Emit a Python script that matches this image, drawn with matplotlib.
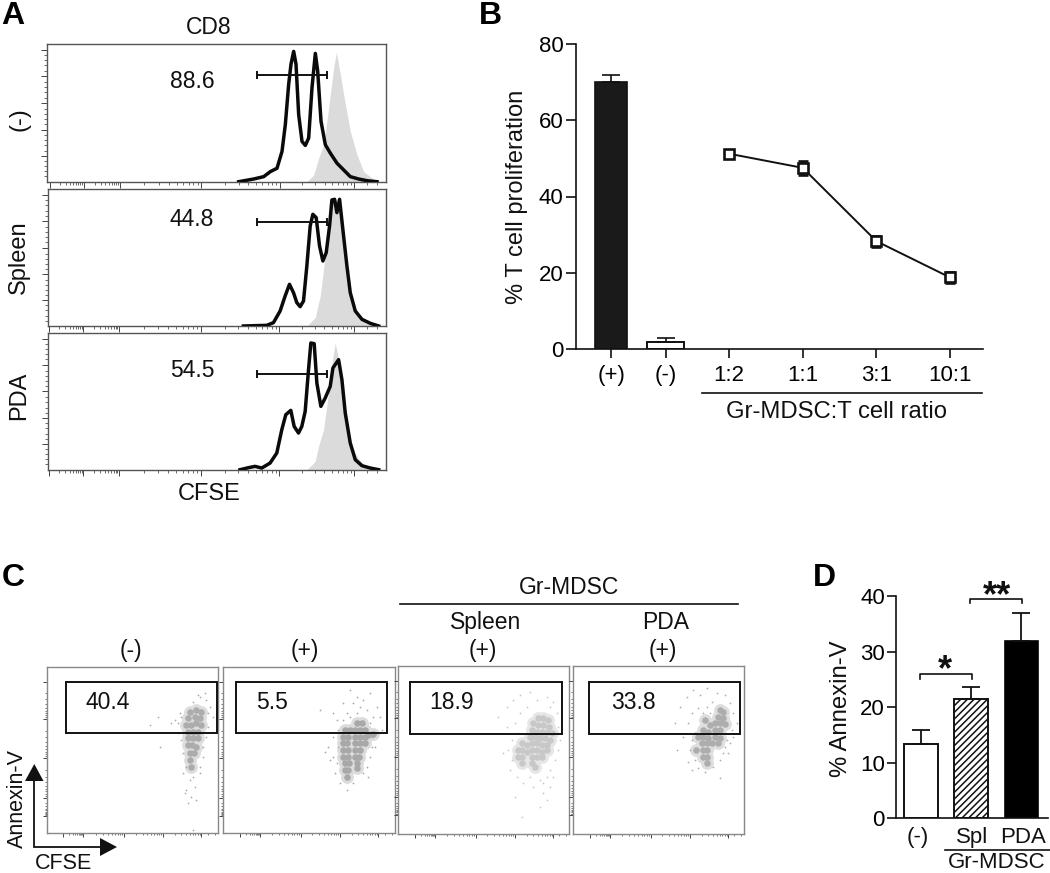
import numpy as np
import matplotlib
matplotlib.use("Agg")
import matplotlib.pyplot as plt
from matplotlib.patches import Polygon, Rectangle

plt.rcParams['font.family'] = ['Liberation Sans', 'DejaVu Sans']
plt.rcParams['hatch.linewidth'] = 1.1

W, H = 1050, 873
fig = plt.figure(figsize=(W/100, H/100), dpi=100, facecolor='white')

def px_axes(l, t, r, b):
    return fig.add_axes([l/W, 1-b/H, (r-l)/W, (b-t)/H])

# ---------- Panel A: histograms (channel, height) ----------
A_NAMES = ['(-)', 'Spleen', 'PDA']
A_PCT = ['88.6', '44.8', '54.5']
A_GATE_H = [319, 311, 287]
A_GATE_X = [770, 980]
A_BLACK_X = [
    [715,760,790,810,830,845,855,865,872,880,887,895,905,915,925,935,945,952,962,975,990,1010,1030,1050,1075,1100,1130],
    [730,800,820,840,855,868,880,890,900,910,920,930,938,948,958,968,978,988,995,1003,1010,1018,1030,1040,1050,1065,1085,1110,1135],
    [720,745,765,785,810,830,845,857,872,882,895,905,915,925,932,942,950,962,975,990,998,1015,1025,1035,1050,1065,1085,1110,1135],
]
A_BLACK_Y = [
    [0,8,15,30,40,90,170,290,350,388,350,200,120,108,130,280,382,330,180,110,85,55,35,15,8,3,0],
    [0,2,10,45,90,125,100,70,58,75,180,300,335,325,240,195,220,300,378,380,340,380,270,180,100,45,20,8,0],
    [0,6,10,5,20,50,120,165,178,130,110,130,175,300,380,378,260,190,215,250,305,330,270,170,80,30,12,5,0],
]
A_GRAY_X = [
    [920,940,955,970,985,1000,1008,1020,1035,1050,1070,1090,1110,1130],
    [920,945,960,975,985,995,1010,1020,1030,1045,1060,1080,1110,1130],
    [920,945,955,970,985,995,1005,1018,1030,1050,1070,1090,1110,1135],
]
A_GRAY_Y = [
    [0,20,70,110,220,340,385,320,230,150,80,30,15,0],
    [0,25,90,210,280,370,380,340,260,130,60,25,5,0],
    [0,25,70,120,230,320,380,320,200,75,40,15,5,0],
]
A_BOXES = [(47, 44, 386, 181.7), (48, 189.3, 386, 326), (48, 333, 386, 469.7)]
A_XL = [140, 145, 145]
A_DECADES = [250, 358, 603, 838, 1062]
A_YMAJOR = [77, 155, 235, 315, 393]

def log_minor(d):
    out = []
    for a, b in zip(d[:-1], d[1:]):
        out += list(a + (b-a)*np.log10(np.arange(2, 10)))
    return out

for i in range(3):
    ax = px_axes(*A_BOXES[i])
    ax.fill_between(A_GRAY_X[i], A_GRAY_Y[i], color='#dbdbdb', lw=0, zorder=1)
    ax.plot(A_BLACK_X[i], A_BLACK_Y[i], color='#0a0a0a', lw=2.5, solid_joinstyle='round', zorder=3)
    ax.plot(A_GATE_X, [A_GATE_H[i]]*2, color='#111111', lw=1.4, zorder=4,
            marker='|', ms=6, mew=1.4)
    ax.set_xlim(A_XL[i], 1157); ax.set_ylim(0, 410)
    ax.set_xticks([148] + A_DECADES)
    ax.set_xticks(log_minor([148] + A_DECADES) + [1100, 1130], minor=True)
    ax.set_yticks(A_YMAJOR)
    ax.set_yticks([v+k*15.6 for v in [0]+A_YMAJOR for k in range(1, 5) if v+k*15.6 < 405], minor=True)
    ax.tick_params(which='major', length=4.5, width=0.7, color='#444444', labelleft=False, labelbottom=False)
    ax.tick_params(which='minor', length=2, width=0.6, color='#555555')
    for s in ax.spines.values():
        s.set_color('#555555'); s.set_linewidth(1.0)

# ---------- Panel B ----------
B_BAR_LABELS = ['(+)', '(-)']
B_BAR_POS = [0.40, 1.14]
B_BAR_WIDTHS = [0.434, 0.497]
B_BAR_VALS = [70.0, 1.9]
B_BAR_ERR = [1.7, 1.0]
B_RATIO_LABELS = ['1:2', '1:1', '3:1', '10:1']
B_RATIO_POS = [2, 3, 4, 5]
B_RATIO_VALS = [51.2, 47.5, 28.3, 18.8]
B_RATIO_ERR = [0.7, 1.8, 1.4, 1.5]
B_YTICKS = [0, 20, 40, 60, 80]

axb = px_axes(576, 43.7, 983, 349.3)
axb.bar(B_BAR_POS[0], B_BAR_VALS[0], B_BAR_WIDTHS[0], color='#1a1a1a', edgecolor='#111111', lw=1.2)
axb.bar(B_BAR_POS[1], B_BAR_VALS[1], B_BAR_WIDTHS[1], color='white', edgecolor='#111111', lw=1.4)
axb.errorbar(B_BAR_POS, B_BAR_VALS, yerr=[[0, 0], B_BAR_ERR], fmt='none', ecolor='#111111',
             elinewidth=1.2, capsize=6.3, capthick=1.2)
axb.errorbar(B_RATIO_POS, B_RATIO_VALS, yerr=B_RATIO_ERR, color='#111111', lw=1.4,
             marker='s', ms=6.5, mfc='white', mec='#111111', mew=1.9,
             ecolor='#111111', elinewidth=1.2, capsize=3.8, capthick=1.2)
axb.set_xlim(-0.076, 5.446); axb.set_ylim(0, 80)
axb.set_xticks(B_BAR_POS + B_RATIO_POS)
axb.set_xticklabels(B_BAR_LABELS + B_RATIO_LABELS)
axb.set_yticks(B_YTICKS)
axb.tick_params(axis='y', length=7, width=1.2, labelsize=16, pad=2, color='#111111')
axb.tick_params(axis='x', length=6.5, width=1.2, labelsize=16, pad=4.5, color='#111111')
for s in ['top', 'right']:
    axb.spines[s].set_visible(False)
for s in ['left', 'bottom']:
    axb.spines[s].set_linewidth(1.2); axb.spines[s].set_color('#111111')

# ---------- Panel C: gates and read-off dot clouds (channel coordinates) ----------
C_PCT = ['40.4', '5.5', '18.9', '33.8']
C_BOXES = [(46.7, 666.7, 218, 833.3), (223.3, 666.7, 395, 833.3), (398.3, 666, 569.3, 834), (573.3, 666, 744.3, 834)]
C_XLIM = [(140, 655), (670, 1185), (25, 538), (550, 1063)]
C_YLIM = [(820, 320), (820, 320), (762, 258), (762, 258)]
C_GATE = [(197, 365, 652, 520), (708, 365, 1162, 520), (61, 306, 515, 462), (597, 306, 1051, 462)]
C_COLOR = ['#acacac', '#a8a8a8', '#c8c8c8', '#adadad']
C_HALO = ['#dedede', '#dcdcdc', '#e6e6e6', '#dedede']
C1_CORE = [(570,455),(590,450),(605,455),(565,475),(585,470),(600,475),(560,495),(575,495),(590,490),(605,495),
           (565,515),(580,515),(595,515),(565,535),(580,535),(595,535),(565,555),(578,555),(590,560),(570,580),
           (582,580),(572,600),(575,620)]
C1_DOTS = [(450,495),(475,470),(515,490),(540,460),(600,410),(620,420),(630,440),(615,400),(535,520),(620,530),
           (625,500),(545,540),(610,590),(600,640),(550,640),(570,660),(585,680),(560,690),(565,730),(575,710),
           (590,720),(555,700),(580,650),(560,620),(525,480),(640,470),(610,560),(550,580),(580,810),(480,560),
           (600,620),(580,425),(595,405),(545,470),(535,490),(625,460)]
C2_CORE = [(1035,510),(1050,510),(1030,530),(1045,530),(1028,550),(1042,550),(1030,570),(1045,570),(1030,590),(1045,590),
           (1035,610),(1048,610),(1035,630),(1045,630),(1040,650),(1070,490),(1085,490),(1065,510),(1080,510),(1095,510),
           (1065,530),(1080,530),(1095,530),(1105,525),(1065,550),(1080,550),(1095,550),(1065,570),(1080,570),(1065,590),
           (1078,590),(1070,610),(1072,625),(1120,522)]
C2_DOTS = [(985,560),(975,575),(990,600),(1000,530),(1010,480),(1030,430),(1050,390),(1070,410),(1090,420),(1110,400),
           (1130,440),(1140,470),(1145,510),(1125,560),(1110,590),(1100,620),(1060,670),(1040,690),(1020,670),(1005,640),
           (1000,460),(1060,430),(1120,470),(1100,450),(1080,440),(1040,460),(1030,480),(1015,510),(1130,520),(1115,530),
           (960,450),(1000,590),(1105,650),(1090,640),(1070,460),(1050,470),(1110,490),(1015,560),(1010,610),(1115,560)]
C3_CORE = [(445,415),(460,415),(475,420),(430,430),(445,435),(460,435),(478,440),(425,450),(440,455),(455,455),
           (470,455),(485,460),(420,470),(435,470),(450,475),(465,475),(480,480),(395,490),(410,495),(425,490),
           (440,490),(455,495),(470,495),(395,510),(410,515),(425,510),(440,510),(455,515),(470,510),(395,530),
           (425,530),(440,530),(455,530),(425,550),(395,550),(435,560),(385,510),(385,530)]
C3_DOTS = [(350,380),(370,360),(390,345),(420,335),(440,360),(470,350),(490,365),(500,400),(505,440),(510,480),
           (505,510),(495,540),(480,570),(470,590),(450,600),(420,590),(380,590),(360,570),(340,520),(325,410),
           (350,440),(365,480),(355,510),(390,400),(410,380),(480,380),(430,620),(460,640),(470,660),(450,680),
           (395,710),(375,650),(480,620),(460,610),(400,610),(490,590),(375,430),(385,460),(365,540),(500,460)]
C4_CORE = [(990,390),(1000,395),(985,410),(1000,415),(975,430),(990,430),(1005,432),(945,420),(960,435),(975,450),
           (990,450),(940,450),(955,455),(940,470),(955,475),(975,470),(990,475),(935,490),(950,490),(965,490),
           (985,490),(940,510),(952,510),(940,530),(952,530),(950,550),(918,510),(925,470)]
C4_DOTS = [(855,430),(870,380),(890,350),(910,330),(930,345),(950,325),(980,340),(1005,345),(1020,370),(1030,400),
           (1040,430),(1025,450),(1020,490),(1000,520),(990,540),(970,560),(945,575),(905,570),(895,545),(860,510),
           (880,470),(895,430),(905,400),(925,385),(950,380),(960,400),(1010,480),(1005,500),(915,540),(905,480),
           (925,565),(990,595),(1015,520),(1030,470),(965,365),(940,400),(915,460),(900,510)]
C_CORES = [C1_CORE, C2_CORE, C3_CORE, C4_CORE]
C_DOTS = [C1_DOTS, C2_DOTS, C3_DOTS, C4_DOTS]
C_XDEC = [50, 110, 232, 350, 465]
C_YMAJOR = [45, 157, 273, 393, 448]

for i in range(4):
    ax = px_axes(*C_BOXES[i])
    cx, cy = zip(*C_CORES[i]); dx, dy = zip(*C_DOTS[i])
    ax.scatter(cx, cy, s=85, color=C_HALO[i], lw=0, zorder=1)
    ax.scatter(dx, dy, s=1.6, color=C_COLOR[i], lw=0, zorder=2)
    ax.scatter(cx, cy, s=22, color=C_COLOR[i], lw=0, zorder=2)
    l, t, r, b = C_GATE[i]
    ax.add_patch(Rectangle((l, t), r-l, b-t, fill=False, ec='#111111', lw=1.4, zorder=3, clip_on=False))
    x0, x1 = C_XLIM[i]; y_bot, y_top = C_YLIM[i]
    ax.set_xlim(x0, x1); ax.set_ylim(y_bot, y_top)
    xd = [x0 + v for v in C_XDEC]
    ax.set_xticks(xd); ax.set_xticks(log_minor(xd) + [x1-30, x1-10], minor=True)
    yd = [y_top + v for v in C_YMAJOR]
    ax.set_yticks(yd); ax.set_yticks(log_minor(yd), minor=True)
    ax.tick_params(which='major', length=3.2, width=0.7, color='#444444', labelleft=False, labelbottom=False)
    ax.tick_params(which='minor', length=1.6, width=0.6, color='#666666')
    for s in ax.spines.values():
        s.set_color('#888888'); s.set_linewidth(1.0)

# ---------- Panel D ----------
D_LABELS = ['(-)', 'Spl', 'PDA']
D_POS = [0, 1, 2]
D_VALS = [13.4, 21.4, 31.9]
D_ERR = [2.4, 2.3, 5.1]
axd = px_axes(896, 596, 1048, 818.3)
axd.bar(D_POS[0], D_VALS[0], 0.67, color='white', edgecolor='#111111', lw=1.4)
axd.bar(D_POS[1], D_VALS[1], 0.67, color='white', edgecolor='#111111', lw=1.4, hatch='/////')
axd.bar(D_POS[2], D_VALS[2], 0.67, color='black', edgecolor='black', lw=1.2)
axd.errorbar(D_POS, D_VALS, yerr=[[0, 0, 0], D_ERR], fmt='none', ecolor='#111111',
             elinewidth=1.3, capsize=6.5, capthick=1.3)
axd.set_xlim(-0.498, 2.528); axd.set_ylim(0, 40)
axd.set_yticks([0, 10, 20, 30, 40]); axd.set_xticks([])
axd.tick_params(axis='y', length=6.5, width=1.2, labelsize=16, pad=1.5, color='#111111')
for s in ['top', 'right']:
    axd.spines[s].set_visible(False)
for s in ['left', 'bottom']:
    axd.spines[s].set_linewidth(1.2); axd.spines[s].set_color('#111111')
BRACKETS = [(0, 1, 25.9, 25.0), (1, 2, 39.5, 38.7)]
for a, b, top, foot in BRACKETS:
    axd.plot([a-0.02, a-0.02, b+0.02, b+0.02], [foot, top, top, foot], color='#111111', lw=1.2, clip_on=False)

# ---------- Annotation overlay in figure pixels ----------
ov = fig.add_axes([0, 0, 1, 1], zorder=10)
ov.set_xlim(0, W); ov.set_ylim(H, 0); ov.axis('off')

def T(x, y, s, size=16.5, **kw):
    kw.setdefault('color', '#111111')
    rot = kw.get('rotation', 0)
    if rot:
        x += 1
    else:
        y += 1.5
    ov.text(x, y, s, fontsize=size, ha='center', va='center', **kw)

for x, y, s in [(13, 15, 'A'), (490, 14, 'B'), (13, 577, 'C'), (824, 577, 'D')]:
    T(x, y, s, size=23, fontweight='bold', color='black')
T(209, 26, 'CD8'); T(209, 493, 'CFSE', size=17)
for y, name in zip([119, 257, 396], A_NAMES):
    T(18, y, name, rotation=90, size=17)
for y, p in zip([80, 218, 369], A_PCT):
    T(192, y, p, size=16.5)

T(516, 197, '% T cell proliferation', size=17, rotation=90)
ov.plot([702, 982], [393, 393], color='#111111', lw=1.2)
T(837, 411, 'Gr-MDSC:T cell ratio', size=17.2)

for x, s in [(131, '(-)'), (305, '(+)'), (483, '(+)'), (663, '(+)')]:
    T(x, 649, s, size=16.5)
T(486, 621, 'Spleen', size=16.5); T(666, 621, 'PDA', size=16.5)
T(569, 586, 'Gr-MDSC', size=16.5)
ov.plot([400, 738], [603.5, 603.5], color='#111111', lw=1.2)
for x, y, p in [(108, 701, C_PCT[0]), (272, 701, C_PCT[1]), (452, 701, C_PCT[2]), (633, 701, C_PCT[3])]:
    T(x, y, p, size=16.5)
T(16, 798, 'Annexin-V', size=15.5, rotation=90)
T(63, 862, 'CFSE', size=15.5)
ov.plot([34.3, 34.3, 101], [780, 847, 847], color='#111111', lw=1.3, solid_joinstyle='miter')
ov.add_patch(Polygon([(34.3, 764), (25, 781), (43.5, 781)], color='#111111', lw=0))
ov.add_patch(Polygon([(117, 847), (100, 838), (100, 856)], color='#111111', lw=0))

T(840, 709, '% Annexin-V', size=17.2, rotation=90)
T(918, 836, D_LABELS[0], size=16); T(972, 836, D_LABELS[1], size=16); T(1022.7, 836, D_LABELS[2], size=16)
ov.plot([945, 1050], [849.5, 849.5], color='#111111', lw=1.2)
T(997, 861, 'Gr-MDSC', size=16)
T(944.5, 669, '*', size=26, fontweight='bold')
T(997, 595, '**', size=26, fontweight='bold')

fig.savefig('out.png', dpi=100)
